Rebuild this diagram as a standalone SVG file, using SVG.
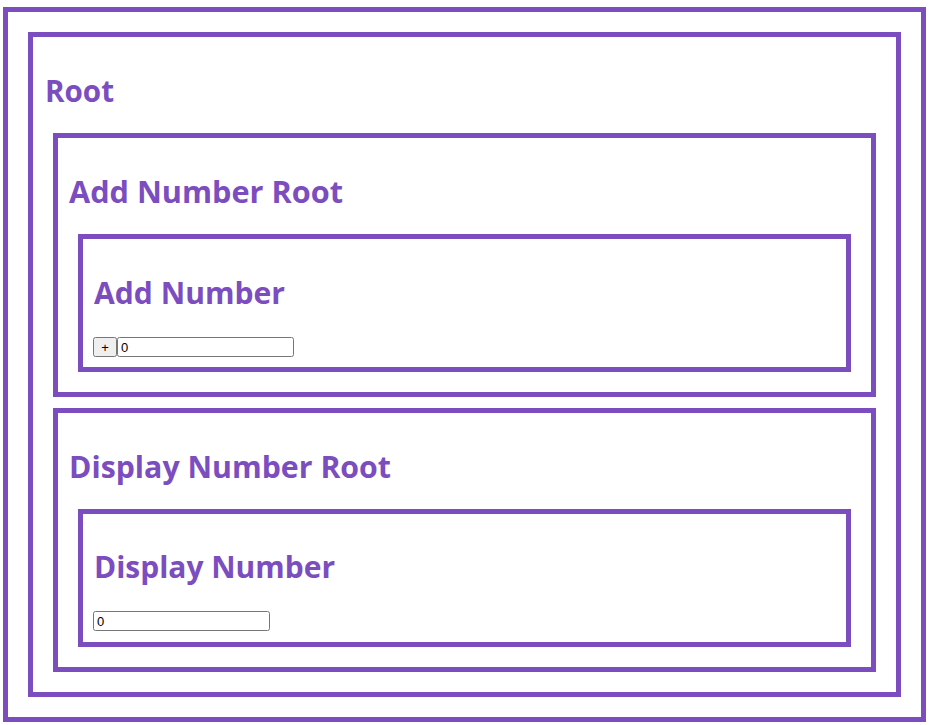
<svg xmlns="http://www.w3.org/2000/svg" width="930" height="725" viewBox="0 0 930 725">
<style>
.box{fill:none;stroke:#7B4DBF;stroke-width:5}
.h{font-family:"Open Sans","Noto Sans","Liberation Sans",sans-serif;font-weight:bold;font-size:30px;fill:#7B4DBF}
.inp{fill:#fff;stroke:#767676;stroke-width:1}
.btn{fill:#efefef;stroke:#767676;stroke-width:1}
.t{font-family:"Liberation Sans",Arial,sans-serif;font-size:13px;fill:#000}
</style>
<rect width="930" height="725" fill="#fff"/>
<g id="outer"><rect class="box" x="5.5" y="9.5" width="918" height="710"/></g>
<g id="root">
<rect class="box" x="30.5" y="34.5" width="868" height="660"/>
<text class="h" x="45" y="102" textLength="69" lengthAdjust="spacingAndGlyphs">Root</text>
</g>
<g id="add-number-root">
<rect class="box" x="55.5" y="135.5" width="818" height="259"/>
<text class="h" x="69" y="203" textLength="274" lengthAdjust="spacingAndGlyphs">Add Number Root</text>
</g>
<g id="add-number">
<rect class="box" x="80.5" y="236.5" width="768" height="133"/>
<text class="h" x="94" y="304" textLength="191" lengthAdjust="spacingAndGlyphs">Add Number</text>
<rect class="btn" x="93.5" y="337.5" width="23" height="19" rx="2"/>
<text class="t" x="105" y="351.5" text-anchor="middle">+</text>
<rect class="inp" x="117.5" y="337.5" width="176" height="19" rx="2"/>
<text class="t" x="121" y="351.5">0</text>
</g>
<g id="display-number-root">
<rect class="box" x="55.5" y="410.5" width="818" height="259"/>
<text class="h" x="69" y="478" textLength="322" lengthAdjust="spacingAndGlyphs">Display Number Root</text>
</g>
<g id="display-number">
<rect class="box" x="80.5" y="511.5" width="768" height="133"/>
<text class="h" x="94" y="578" textLength="241" lengthAdjust="spacingAndGlyphs">Display Number</text>
<rect class="inp" x="93.5" y="611.5" width="176" height="19" rx="2"/>
<text class="t" x="97" y="625.5">0</text>
</g>
<g id="connectors"/>
</svg>
